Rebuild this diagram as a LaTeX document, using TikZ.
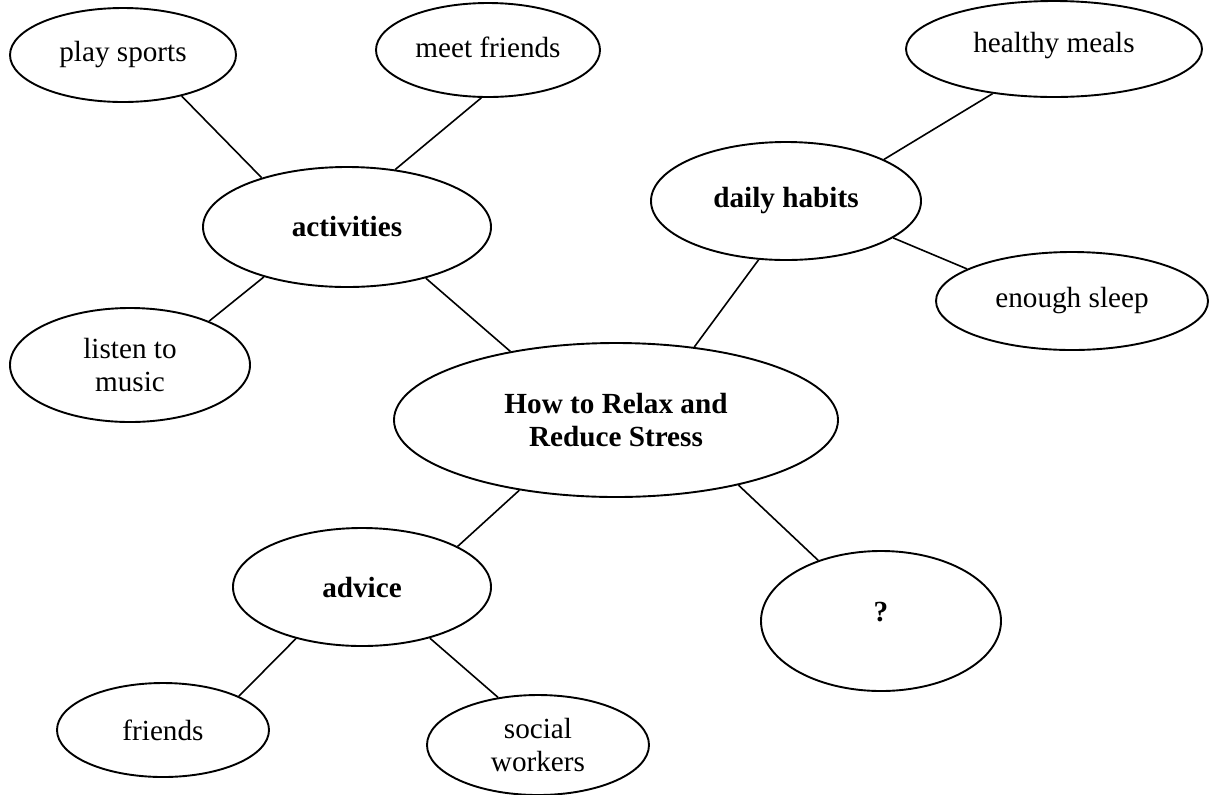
\documentclass[tikz,border=0pt]{standalone}
\usepackage{fontspec}
\setmainfont{Liberation Serif}
\usepackage{tikz}
\usetikzlibrary{shapes.geometric}

\begin{document}
\begin{tikzpicture}[x=0.5pt,y=0.5pt,yscale=-1,xscale=1,
  bubble/.style={draw,ellipse,line width=0.95pt,inner sep=0pt,align=center,
    font=\fontsize{14.6}{16.8}\selectfont},
  topic/.style={bubble,font=\fontsize{14.6}{16.8}\selectfont\bfseries},
  link/.style={line width=0.8pt}]
\useasboundingbox (0,0) rectangle (1210,794);

%Shape: Ellipse [main topic]
\node [topic,minimum width=222pt,minimum height=77pt] (main) at (616,420) {How to Relax and\\Reduce Stress};

%Shape: Ellipse [branches]
\node [topic,minimum width=144pt,minimum height=60pt] (act) at (347,227) {activities};
\node [topic,minimum width=135pt,minimum height=59pt] (dh) at (786,201) {daily habits};
\node [topic,minimum width=129pt,minimum height=59pt] (adv) at (362,587) {advice};
\node [topic,minimum width=120pt,minimum height=70pt] (q) at (881,621) {\raisebox{9pt}{?}};

%Shape: Ellipse [leaves]
\node [bubble,minimum width=113pt,minimum height=47pt] (ps) at (123,55) {\raisebox{3pt}{play sports}};
\node [bubble,minimum width=112pt,minimum height=47pt] (mf) at (488,50) {\raisebox{3pt}{meet friends}};
\node [bubble,minimum width=120pt,minimum height=57pt] (ltm) at (130,365) {listen to\\music};
\node [bubble,minimum width=148pt,minimum height=48pt] (hm) at (1054,49) {\raisebox{7pt}{healthy meals}};
\node [bubble,minimum width=136pt,minimum height=49pt] (es) at (1072,301) {enough sleep};
\node [bubble,minimum width=106pt,minimum height=47pt] (fr) at (163,730) {friends};
\node [bubble,minimum width=111pt,minimum height=50pt] (sw) at (538,745) {social\\workers};

%Straight Lines
\draw [link] (ps.-35) -- (act.150);
\draw [link] (mf.-98) -- (act.50);
\draw [link] (act.-149) -- (ltm.29);
\draw [link] (act.-33) -- (main.147);
\draw [link] (hm.-144) -- (dh.23);
\draw [link] (dh.-19) -- (es.163);
\draw [link] (dh.-115) -- (main.43);
\draw [link] (main.-144) -- (adv.23);
\draw [link] (main.-28) -- (q.136);
\draw [link] (adv.-142) -- (fr.24);
\draw [link] (adv.-37) -- (sw.130);

\end{tikzpicture}
\end{document}
